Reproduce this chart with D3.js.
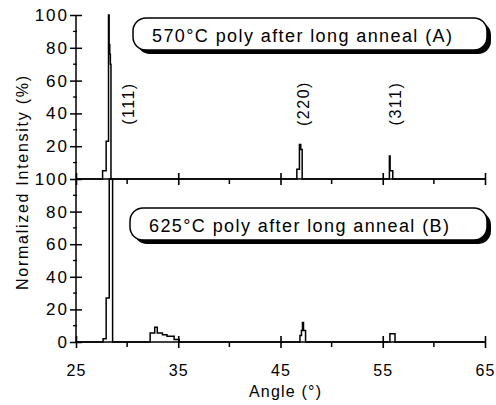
<!DOCTYPE html>
<html><head><meta charset="utf-8">
<script src="https://cdn.jsdelivr.net/npm/d3@7"></script>
<style>
html,body{margin:0;padding:0;background:#fff;}
text{font-family:"Liberation Sans",Arial,Helvetica,sans-serif;fill:#000;}
</style></head>
<body><svg id="c" width="496" height="405"></svg>
<script>
// ---- data ----
const xTicks = [25, 35, 45, 55, 65];
const xMinorTicks = [30, 40, 50, 60];
const yTicksTop = [20, 40, 60, 80, 100];
const yTicksBottom = [0, 20, 40, 60, 80, 100];
const yMinorTicks = [10, 30, 50, 70, 90];

// Sample A (570°C) step scan: angle (deg) and normalized intensity (%)
const anglesA = [25, 27.6, 27.95, 28.18, 28.24, 28.3, 28.36, 28.42, 46.6, 46.85, 46.98, 47.12, 55.65, 55.72, 55.98, 65];
const valuesA = [0,  5,    23,    100,   82,    76,   70,    0,     6,    21,    18,    0,     14,    5,     0,     0];

// Sample B (625°C)
const anglesB = [25, 27.65, 27.95, 28.25, 28.58, 32.25, 32.7, 32.95, 33.45, 33.9, 34.6, 35.1, 46.9, 47.05, 47.15, 47.25, 47.45, 55.7, 56.2, 65];
const valuesB = [0,  2,     27,    100,   0,     5.5,   9,    5.5,   4.5,   3.5,  1.5,  0,    4,    7,     12,    7,     0,     5,    0,    0];

const peakLabels = ["(111)", "(220)", "(311)"];
const peakAngles = [30.1, 47.2, 56.2];
const legendA = "570°C poly after long anneal (A)";
const legendB = "625°C poly after long anneal (B)";
const xTitle = "Angle (°)";
const yTitle = "Normalized Intensity (%)";

// ---- chart ----
const svg = d3.select("#c");
const x = d3.scaleLinear().domain([25, 65]).range([76, 485]);
const yTop = d3.scaleLinear().domain([0, 100]).range([179, 15]);
const yBot = d3.scaleLinear().domain([0, 100]).range([342, 179]);

function drawXAxis(yPos, labels) {
  const g = svg.append("g").attr("transform", `translate(0,${yPos})`);
  const ax = d3.axisBottom(x).tickValues(xTicks).tickSize(6).tickFormat(labels ? d3.format("d") : "");
  g.call(ax);
  g.select(".domain").attr("stroke", "#000").attr("stroke-width", 1.6).attr("d", `M${x(25)},0H${x(65)}`);
  g.selectAll(".tick line").attr("y1", -6).attr("y2", 6).attr("stroke-width", 1.6);
  g.selectAll(".tick text").attr("y", 23).attr("dy", "0.71em")
    .style("font-size", "16px").style("letter-spacing", "1px");
  g.selectAll(".minor").data(xMinorTicks).enter().append("line")
    .attr("x1", d => x(d)).attr("x2", d => x(d)).attr("y1", 0).attr("y2", 5)
    .attr("stroke", "#000").attr("stroke-width", 1.5);
}

function drawYAxis(scale, ticks) {
  const g = svg.append("g").attr("transform", `translate(${x(25)},0)`);
  const ax = d3.axisLeft(scale).tickValues(ticks).tickSize(6);
  g.call(ax);
  g.select(".domain").attr("stroke", "#000").attr("stroke-width", 1.5)
    .attr("d", `M0,${scale(0)}V${scale(100)}`);
  g.selectAll(".tick line").attr("x1", -6).attr("x2", 6).attr("stroke-width", 1.5);
  g.selectAll(".tick text").attr("x", -7).style("font-size", "17px").style("letter-spacing", "2px");
  g.selectAll(".minor").data(yMinorTicks).enter().append("line")
    .attr("x1", -3).attr("x2", 1).attr("y1", d => scale(d)).attr("y2", d => scale(d))
    .attr("stroke", "#000").attr("stroke-width", 1.3);
}

drawYAxis(yTop, yTicksTop);
drawYAxis(yBot, yTicksBottom);
drawXAxis(179, false);
drawXAxis(342, true);

function drawSeries(angles, values, scale) {
  const pts = angles.map((a, i) => [a, values[i]]);
  const line = d3.line().x(d => x(d[0])).y(d => scale(d[1])).curve(d3.curveStepAfter);
  svg.append("path").datum(pts).attr("d", line)
    .attr("fill", "none").attr("stroke", "#000").attr("stroke-width", 1.5);
}
drawSeries(anglesA, valuesA, yTop);
drawSeries(anglesB, valuesB, yBot);

// peak labels
peakLabels.forEach((t, i) => {
  svg.append("text")
    .attr("transform", `translate(${x(peakAngles[i]) + 6},${yTop(46)}) rotate(-90)`)
    .attr("text-anchor", "middle")
    .style("font-size", "16px").style("letter-spacing", "1.5px")
    .text(t);
});

// legend boxes
function legend(x0, y0, w, h, label) {
  const g = svg.append("g");
  g.append("rect").attr("x", x0 + 4).attr("y", y0 + 4).attr("width", w).attr("height", h)
    .attr("rx", 13).attr("ry", 13).attr("fill", "#000");
  g.append("rect").attr("x", x0).attr("y", y0).attr("width", w).attr("height", h)
    .attr("rx", 13).attr("ry", 13).attr("fill", "#fff").attr("stroke", "#000").attr("stroke-width", 1.5);
  g.append("text").attr("x", x0 + 19).attr("y", y0 + 24)
    .attr("textLength", 300).attr("lengthAdjust", "spacing")
    .style("font-size", "18px").text(label);
}
legend(133, 18, 354, 32, legendA);
legend(130, 208, 357, 32, legendB);

// axis titles
svg.append("text").attr("x", 285).attr("y", 397).attr("text-anchor", "middle")
  .attr("textLength", 72).attr("lengthAdjust", "spacing")
  .style("font-size", "16px").text(xTitle);
svg.append("text").attr("transform", "translate(28,183) rotate(-90)").attr("text-anchor", "middle")
  .attr("textLength", 214).attr("lengthAdjust", "spacing")
  .style("font-size", "16px").text(yTitle);
</script></body></html>
